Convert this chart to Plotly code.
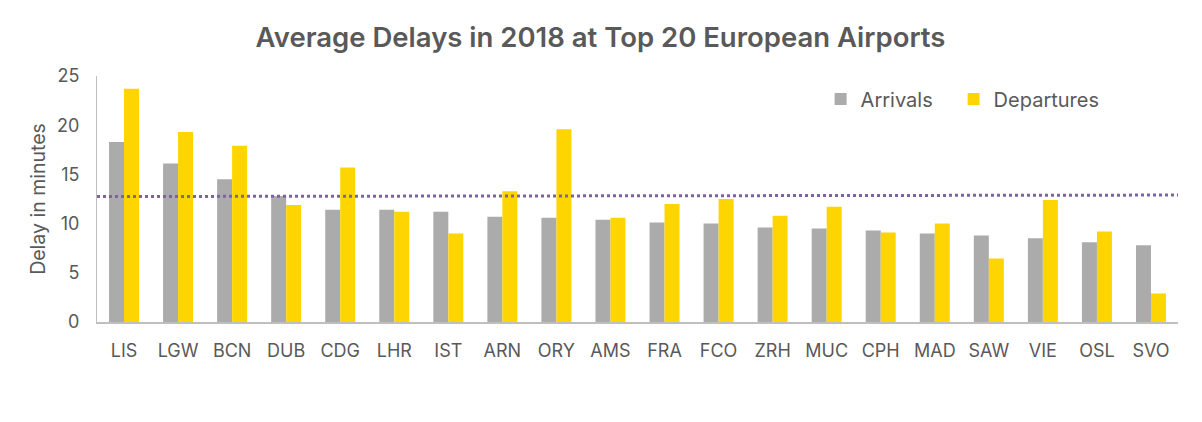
import plotly.graph_objects as go

airports = ["LIS", "LGW", "BCN", "DUB", "CDG", "LHR", "IST", "ARN", "ORY", "AMS",
            "FRA", "FCO", "ZRH", "MUC", "CPH", "MAD", "SAW", "VIE", "OSL", "SVO"]
arrivals = [18.3, 16.1, 14.5, 12.8, 11.4, 11.4, 11.2, 10.7, 10.6, 10.4,
            10.1, 10.0, 9.6, 9.5, 9.3, 9.0, 8.8, 8.5, 8.1, 7.8]
departures = [23.7, 19.3, 17.9, 11.9, 15.7, 11.2, 9.0, 13.3, 19.6, 10.6,
              12.0, 12.5, 10.8, 11.7, 9.1, 10.0, 6.45, 12.4, 9.2, 2.9]
average_line = [12.75, 12.9]  # dotted reference line, left end / right end

TXT = "#595959"
FONT = "Inter"
PW = 1202 - 89 - 32

fig = go.Figure()
fig.add_trace(go.Bar(name="Arrivals", x=airports, y=arrivals, legend="legend",
                     marker=dict(color="#ABABAB", line=dict(width=0))))
fig.add_trace(go.Bar(name="Departures", x=airports, y=departures, legend="legend2",
                     marker=dict(color="#FFD500", line=dict(width=0))))

fig.add_shape(type="line", xref="paper", yref="y",
              x0=0, x1=1, y0=average_line[0], y1=average_line[1],
              line=dict(color="#7F63A0", width=3, dash="dot"))

leg_common = dict(orientation="h", xanchor="left", yanchor="middle",
                  font=dict(size=20, color=TXT), bgcolor="rgba(0,0,0,0)", itemwidth=30)

fig.update_layout(
    width=1202, height=422,
    margin=dict(l=89, r=32, t=68, b=108),
    paper_bgcolor="white", plot_bgcolor="white",
    barmode="group", bargap=0.445, bargroupgap=0,
    font=dict(family=FONT, color=TXT),
    title=dict(text="Average Delays in 2018 at Top 20 European Airports",
               x=592.5 / 1202, xanchor="center", y=1 - 29 / 422, yanchor="middle",
               font=dict(size=27.5, color=TXT, family=FONT, weight=600)),
    legend=dict(x=(831 - 89) / PW - 0.017, y=1 + (68 - 91) / 246, **leg_common),
    legend2=dict(x=(964 - 89) / PW - 0.017, y=1 + (68 - 91) / 246, **leg_common),
    showlegend=True,
)
fig.update_xaxes(showline=True, linecolor="#BFBFBF", linewidth=2,
                 ticks="", tickfont=dict(size=18, color=TXT), showgrid=False,
                 ticklabelstandoff=11)
fig.update_yaxes(range=[0, 25], dtick=5, showline=True, linecolor="#BFBFBF", linewidth=1,
                 ticks="", showgrid=False, zeroline=False, automargin=False,
                 tickfont=dict(size=18, color=TXT), ticklabelstandoff=13,
                 title=dict(text="Delay in minutes", font=dict(size=19.5, color=TXT), standoff=6))

fig.write_html("out.html")
